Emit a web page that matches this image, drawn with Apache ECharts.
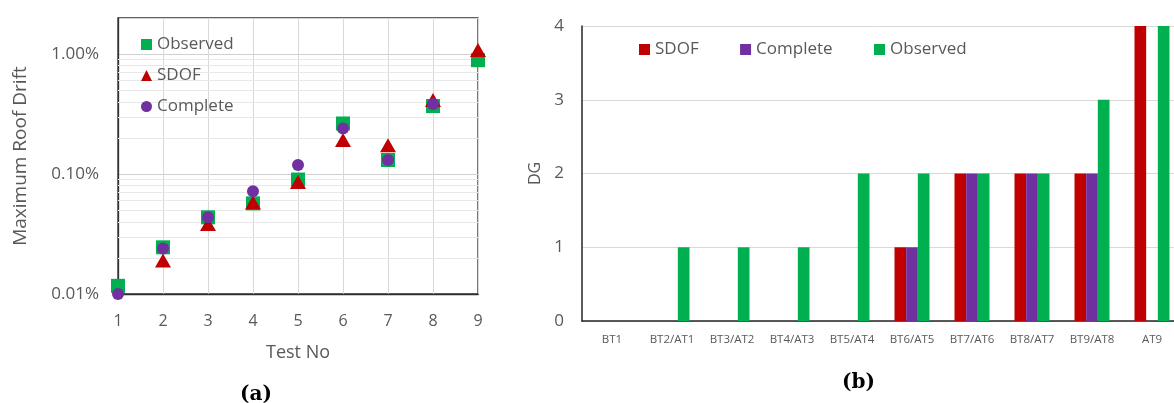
<!DOCTYPE html>
<html>
<head>
<meta charset="utf-8">
<script src="https://cdn.jsdelivr.net/npm/echarts@6/dist/echarts.min.js"></script>
<style>
  html, body { margin: 0; padding: 0; background: #fff; }
  #chart { width: 1174px; height: 403px; }
</style>
</head>
<body>
<div id="chart"></div>
<script>
// (a) maximum roof drift, in percent, per test
var tests = [1, 2, 3, 4, 5, 6, 7, 8, 9];
var observedDrift = [0.0117, 0.0245, 0.0436, 0.057, 0.090, 0.264, 0.131, 0.369, 0.89];
var sdofDrift = [0.0093, 0.019, 0.0383, 0.058, 0.086, 0.192, 0.174, 0.414, 1.08];
var completeDrift = [0.0100, 0.0240, 0.0436, 0.072, 0.119, 0.240, 0.131, 0.384, null];
var minorGrid = [0.02, 0.03, 0.04, 0.05, 0.06, 0.07, 0.08, 0.09,
                 0.2, 0.3, 0.4, 0.5, 0.6, 0.7, 0.8, 0.9];

// (b) damage grade per test pair
var pairs = ['BT1', 'BT2/AT1', 'BT3/AT2', 'BT4/AT3', 'BT5/AT4', 'BT6/AT5', 'BT7/AT6', 'BT8/AT7', 'BT9/AT8', 'AT9'];
var sdofDG = [0, 0, 0, 0, 0, 1, 2, 2, 2, 4];
var completeDG = [0, 0, 0, 0, 0, 1, 2, 2, 2, 0];
var observedDG = [0, 1, 1, 1, 2, 2, 2, 2, 3, 4];

var GREEN = '#00B050', RED = '#C00000', PURPLE = '#7030A0';
var TXT = '#595959';
var FONT = 'Open Sans';

function pts(vals) {
    return tests.map(function (t, i) {
        return vals[i] == null ? [t, '-'] : [t, vals[i]];
    });
}

var chart = echarts.init(document.getElementById('chart'));

chart.setOption({
    animation: false,
    textStyle: { fontFamily: FONT },
    grid: [
        { left: 118, top: 18, width: 360, height: 276, show: true, borderColor: '#303030', borderWidth: 1.3, outerBoundsMode: 'none' },
        // the right panel runs past the picture edge, as in the original
        { left: 582, top: 26, width: 600, height: 295, outerBoundsMode: 'none' }
    ],
    legend: [
        {
            orient: 'vertical', left: 136, top: 31, itemWidth: 11, itemHeight: 11, itemGap: 14,
            textStyle: { color: TXT, fontSize: 17, fontFamily: FONT },
            data: [
                { name: 'Observed', icon: 'rect' },
                { name: 'SDOF', icon: 'triangle' },
                { name: 'Complete', icon: 'circle' }
            ]
        },
        {
            orient: 'horizontal', left: 634, top: 36, itemWidth: 11, itemHeight: 11, itemGap: 37,
            textStyle: { color: TXT, fontSize: 17, fontFamily: FONT },
            data: [
                { name: 'SDOF ', icon: 'rect' },
                { name: 'Complete ', icon: 'rect' },
                { name: 'Observed ', icon: 'rect' }
            ]
        }
    ],
    xAxis: [
        {
            type: 'value', gridIndex: 0, min: 1, max: 9, interval: 1,
            name: 'Test No', nameLocation: 'middle', nameGap: 50,
            nameTextStyle: { color: TXT, fontSize: 18, fontFamily: FONT },
            axisLine: { lineStyle: { color: '#303030', width: 1.3 } },
            axisTick: { show: false },
            axisLabel: { color: TXT, fontSize: 16, margin: 19 },
            splitLine: { lineStyle: { color: '#d9d9d9' } }
        },
        {
            type: 'category', gridIndex: 1, data: pairs,
            axisLine: { lineStyle: { color: '#262626', width: 1.5 } },
            axisTick: { show: false },
            axisLabel: { color: TXT, fontSize: 11.5, margin: 13, interval: 0 }
        }
    ],
    yAxis: [
        {
            type: 'log', gridIndex: 0, logBase: 10, min: 0.01, max: 2,
            name: 'Maximum Roof Drift', nameLocation: 'middle', nameGap: 88,
            nameTextStyle: { color: TXT, fontSize: 19, fontFamily: FONT },
            axisLine: { lineStyle: { color: '#303030', width: 1.3 } },
            axisTick: { show: false },
            axisLabel: {
                color: TXT, fontSize: 17, margin: 19, showMaxLabel: false,
                formatter: function (v) { return v.toFixed(2) + '%'; }
            },
            splitLine: { lineStyle: { color: '#d0d0d0' } }
        },
        {
            type: 'value', gridIndex: 1, min: 0, max: 4, interval: 1,
            name: 'DG', nameLocation: 'middle', nameGap: 33,
            nameTextStyle: { color: TXT, fontSize: 16, fontFamily: FONT },
            axisLine: { show: true, lineStyle: { color: '#262626', width: 1.5 } },
            axisTick: { show: false },
            axisLabel: { color: TXT, fontSize: 17, margin: 18 },
            splitLine: { lineStyle: { color: '#d9d9d9' } }
        }
    ],
    series: [
        {
            name: 'Observed', type: 'scatter', xAxisIndex: 0, yAxisIndex: 0, z: 2,
            symbol: 'rect', symbolSize: 14, itemStyle: { color: GREEN, opacity: 1 },
            data: pts(observedDrift),
            markLine: {
                silent: true, symbol: 'none', z: 1, animation: false,
                label: { show: false },
                lineStyle: { color: '#e8e8e8', width: 1, type: 'solid' },
                data: minorGrid.map(function (v) { return { yAxis: v }; })
            }
        },
        {
            name: 'SDOF', type: 'scatter', xAxisIndex: 0, yAxisIndex: 0, z: 3,
            symbol: 'triangle', symbolSize: [16, 14], itemStyle: { color: RED, opacity: 1 },
            data: pts(sdofDrift)
        },
        {
            name: 'Complete', type: 'scatter', xAxisIndex: 0, yAxisIndex: 0, z: 4,
            symbol: 'circle', symbolSize: 12, itemStyle: { color: PURPLE, opacity: 1 },
            data: pts(completeDrift)
        },
        {
            name: 'SDOF ', type: 'bar', xAxisIndex: 1, yAxisIndex: 1,
            barGap: 0, barCategoryGap: '41.7%', itemStyle: { color: RED },
            data: sdofDG
        },
        {
            name: 'Complete ', type: 'bar', xAxisIndex: 1, yAxisIndex: 1,
            barGap: 0, barCategoryGap: '41.7%', itemStyle: { color: PURPLE },
            data: completeDG
        },
        {
            name: 'Observed ', type: 'bar', xAxisIndex: 1, yAxisIndex: 1,
            barGap: 0, barCategoryGap: '41.7%', itemStyle: { color: GREEN },
            data: observedDG
        }
    ],
    graphic: [
        {
            type: 'text', left: 240, top: 385,
            style: { text: '(a)', font: 'bold 20px "DejaVu Serif"', fill: '#000' }
        },
        {
            type: 'text', left: 842, top: 373,
            style: { text: '(b)', font: 'bold 20px "DejaVu Serif"', fill: '#000' }
        }
    ]
});
</script>
</body>
</html>
